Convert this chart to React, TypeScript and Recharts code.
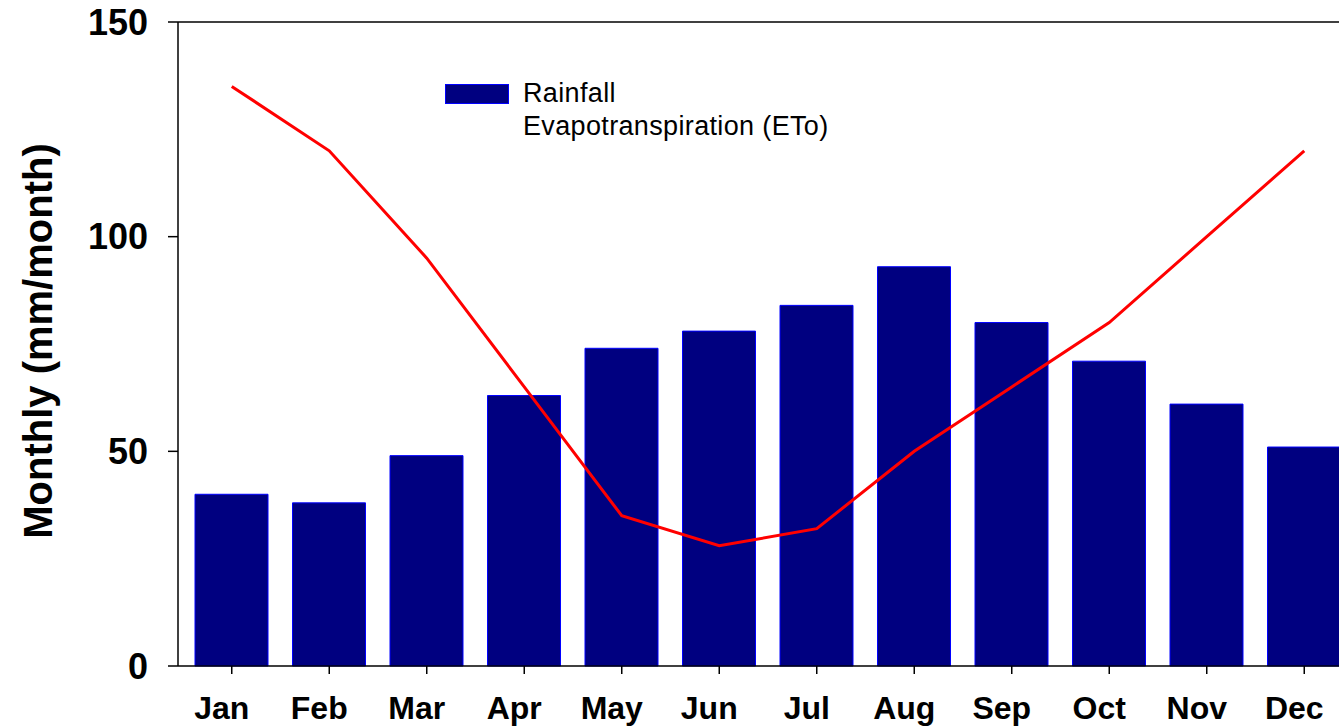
import {
  Bar,
  ComposedChart,
  Line,
  ReferenceLine,
  XAxis,
  YAxis,
} from "recharts";

const months = ["Jan", "Feb", "Mar", "Apr", "May", "Jun", "Jul", "Aug", "Sep", "Oct", "Nov", "Dec"];
const rainfall = [40, 38, 49, 63, 74, 78, 84, 93, 80, 71, 61, 51];
const eto = [135, 120, 95, 65, 35, 28, 32, 50, 65, 80, 100, 120];
const yTicks = [0, 50, 100, 150];

const data = months.map((m, i) => ({ month: m, rainfall: rainfall[i], eto: eto[i] }));

const FONT = '"Liberation Sans", Arial, Helvetica, sans-serif';
const NAVY = "#000080";

function YLabel({ viewBox }: any) {
  const x = viewBox.x + 38;
  const y = viewBox.y + viewBox.height / 2 - 3;
  return (
    <text
      x={x}
      y={y}
      transform={`rotate(-90 ${x} ${y})`}
      textAnchor="middle"
      dominantBaseline="central"
      fontFamily={FONT}
      fontWeight="bold"
      fontSize={40}
      fill="#000"
    >
      Monthly (mm/month)
    </text>
  );
}

// month labels sit a little left of their ticks in the original
function MonthTick({ x, y, payload }: any) {
  return (
    <text
      x={x - 10}
      y={y}
      dy="0.71em"
      textAnchor="middle"
      fontFamily={FONT}
      fontWeight="bold"
      fontSize={32}
      fill="#000"
    >
      {payload.value}
    </text>
  );
}

export default function App() {
  return (
    <div
      style={{
        position: "absolute",
        left: 0,
        top: 0,
        width: 1339,
        height: 726,
        overflow: "hidden",
        background: "#fff",
      }}
    >
      <ComposedChart
        width={1360}
        height={726}
        data={data}
        margin={{ top: 22, right: 7, bottom: 0, left: 0 }}
      >
        <ReferenceLine y={150} stroke="#000" strokeWidth={1.5} />
        <XAxis
          dataKey="month"
          interval={0}
          height={60}
          padding={{ left: 5, right: 0 }}
          tickSize={8}
          tickMargin={22}
          axisLine={{ stroke: "#000", strokeWidth: 1.5 }}
          tickLine={{ stroke: "#000", strokeWidth: 1.5 }}
          tick={<MonthTick />}
        />
        <YAxis
          width={178}
          domain={[0, 150]}
          ticks={yTicks}
          tickSize={10}
          tickMargin={20}
          axisLine={{ stroke: "#000", strokeWidth: 1.5 }}
          tickLine={{ stroke: "#000", strokeWidth: 1.5 }}
          tick={{ fill: "#000", fontSize: 36, fontWeight: "bold", fontFamily: FONT }}
          label={<YLabel />}
        />
        <Bar
          dataKey="rainfall"
          barSize={73}
          fill={NAVY}
          stroke="#0000ff"
          strokeWidth={1}
          isAnimationActive={false}
        />
        <Line
          type="linear"
          dataKey="eto"
          stroke="#ff0000"
          strokeWidth={3}
          dot={false}
          activeDot={false}
          isAnimationActive={false}
        />
      </ComposedChart>

      {/* legend, the ETo row has no visible marker in the original */}
      <div
        style={{
          position: "absolute",
          left: 445,
          top: 84,
          width: 62,
          height: 18,
          background: NAVY,
          border: "1px solid #0000ff",
        }}
      />
      <div
        style={{
          position: "absolute",
          left: 523,
          top: 77,
          fontFamily: FONT,
          fontSize: 27,
          letterSpacing: 0.35,
          lineHeight: "33px",
          color: "#000",
          whiteSpace: "nowrap",
        }}
      >
        <div>Rainfall</div>
        <div>Evapotranspiration (ETo)</div>
      </div>
    </div>
  );
}
